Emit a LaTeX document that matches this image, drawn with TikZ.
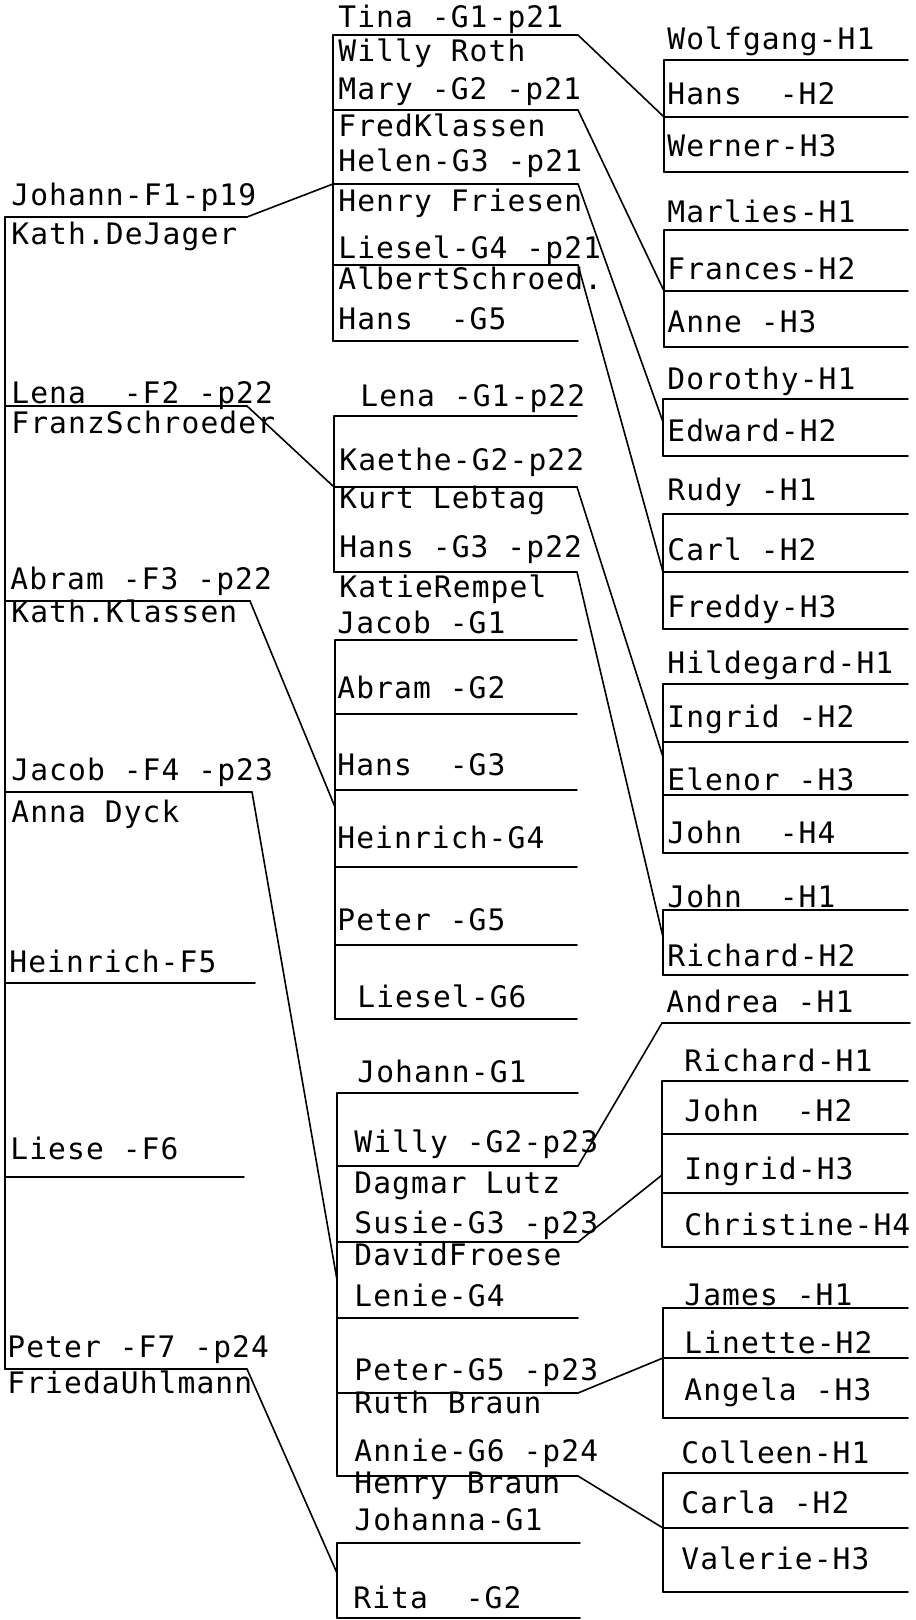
\documentclass[tikz,border=0pt]{standalone}
\usepackage{fontspec}
\setmonofont{DejaVu Sans Mono}[LetterSpace=3.7]
\usetikzlibrary{positioning}

\tikzset{
  person/.style={anchor=base west, inner sep=0pt, font=\ttfamily\fontsize{14.8}{16}\selectfont},
  rule/.style={line width=0.9pt},
  link/.style={line width=0.8pt},
}
% rows of one family: prefix, left x, right x, list of y
\newcommand{\famrows}[4]{%
  \foreach \y [count=\i] in {#4} {
    \coordinate (#1\i w) at (#2,\y);
    \coordinate (#1\i) at (#3,\y);
    \draw[rule] (#1\i w) -- (#1\i);
  }}

\begin{document}
\begin{tikzpicture}[x=0.5pt, y=-0.5pt, line cap=round]
\useasboundingbox (0,0) rectangle (915,1620);

% F generation
\foreach \n/\y/\r in {1/217/247, 2/406/247, 3/601/250, 4/792/252, 5/983/255, 6/1177/244, 7/1369/247} {
  \coordinate (f\n w) at (5,\y);
  \coordinate (f\n) at (\r,\y);
  \draw[rule] (f\n w) -- (f\n);
}
\draw[rule] (f1w) -- (f7w);
\node[person] (johann) at (11,206) {Johann-F1-p19};
\node[person] (kath) at (11,245) {Kath.DeJager};
\node[person] (lena) at (11,404) {Lena~~-F2 -p22};
\node[person] (franz) at (11,434) {FranzSchroeder};
\node[person] (abram) at (10,589) {Abram -F3 -p22};
\node[person] (kathk) at (11,622) {Kath.Klassen};
\node[person] (jacob) at (11,780) {Jacob -F4 -p23};
\node[person] (anna) at (11,822) {Anna Dyck};
\node[person] (heinrich) at (9,972) {Heinrich-F5};
\node[person] (liese) at (10,1159) {Liese -F6};
\node[person] (peter) at (7,1357) {Peter -F7 -p24};
\node[person] (frieda) at (7,1393) {FriedaUhlmann};

% G generation
\famrows{ga}{333}{578}{35,110,184,265,341}
\draw[rule] (ga1w) -- (ga5w);
\foreach \t/\y [count=\i] in {Tina -G1-p21/28, Willy Roth/62, Mary -G2 -p21/100, FredKlassen/137,
    Helen-G3 -p21/172, Henry Friesen/212, Liesel-G4 -p21/259, AlbertSchroed./290, Hans~~-G5/330}
  \node[person] (ga-t\i) at (338,\y) {\t};

\famrows{gb}{334}{577}{416,487,572}
\draw[rule] (gb1w) -- (gb3w);
\node[person] (gb-t1) at (360,407) {Lena -G1-p22};
\foreach \t/\y [count=\i from 2] in {Kaethe-G2-p22/470, Kurt Lebtag/508, Hans -G3 -p22/557, KatieRempel/597}
  \node[person] (gb-t\i) at (339,\y) {\t};

\famrows{gc}{335}{577}{640,714,790,867,945,1019}
\draw[rule] (gc1w) -- (gc6w);
\foreach \t/\y [count=\i] in {Jacob -G1/633, Abram -G2/698, Hans~~-G3/775, Heinrich-G4/848, Peter -G5/930}
  \node[person] (gc-t\i) at (337,\y) {\t};
\node[person] (gc-t6) at (357,1007) {Liesel-G6};

\famrows{gd}{337}{578}{1093,1166,1242,1318,1393,1476}
\draw[rule] (gd1w) -- (gd6w);
\node[person] (gd-t1) at (357,1082) {Johann-G1};
\foreach \t/\y [count=\i from 2] in {Willy -G2-p23/1152, Dagmar Lutz/1193, Susie-G3 -p23/1233,
    DavidFroese/1265, Lenie-G4/1306, Peter-G5 -p23/1380, Ruth Braun/1413, Annie-G6 -p24/1461, Henry Braun/1493}
  \node[person] (gd-t\i) at (354,\y) {\t};

\famrows{ge}{337}{580}{1543,1618}
\draw[rule] (ge1w) -- (ge2w);
\node[person] (ge-t1) at (354,1530) {Johanna-G1};
\node[person] (ge-t2) at (353,1608) {Rita~~-G2};

% H generation
\famrows{ha}{664}{908}{60,117,172}
\draw[rule] (ha1w) -- (ha3w);
\foreach \t/\y [count=\i] in {Wolfgang-H1/50, Hans~~-H2/105, Werner-H3/157}
  \node[person] (ha-t\i) at (667,\y) {\t};

\famrows{hb}{664}{908}{230,291,347}
\draw[rule] (hb1w) -- (hb3w);
\foreach \t/\y [count=\i] in {Marlies-H1/223, Frances-H2/280, Anne -H3/333}
  \node[person] (hb-t\i) at (667,\y) {\t};

\famrows{hc}{663}{908}{399,456}
\draw[rule] (hc1w) -- (hc2w);
\foreach \t/\y [count=\i] in {Dorothy-H1/390, Edward-H2/442}
  \node[person] (hc-t\i) at (667,\y) {\t};

\famrows{hd}{663}{908}{514,572,629}
\draw[rule] (hd1w) -- (hd3w);
\foreach \t/\y [count=\i] in {Rudy -H1/500, Carl -H2/560, Freddy-H3/617}
  \node[person] (hd-t\i) at (667,\y) {\t};

\famrows{he}{663}{908}{684,742,795,853}
\draw[rule] (he1w) -- (he4w);
\foreach \t/\y [count=\i] in {Hildegard-H1/673, Ingrid -H2/727, Elenor -H3/790, John~~-H4/843}
  \node[person] (he-t\i) at (667,\y) {\t};

\famrows{hf}{663}{908}{910,975}
\draw[rule] (hf1w) -- (hf2w);
\foreach \t/\y [count=\i] in {John~~-H1/907, Richard-H2/966}
  \node[person] (hf-t\i) at (667,\y) {\t};

\famrows{hg}{662}{910}{1023}
\node[person] (hg-t1) at (666,1012) {Andrea -H1};

\famrows{hh}{662}{908}{1081,1134,1193,1247}
\draw[rule] (hh1w) -- (hh4w);
\foreach \t/\y [count=\i] in {Richard-H1/1071, John~~-H2/1121, Ingrid-H3/1179, Christine-H4/1235}
  \node[person] (hh-t\i) at (684,\y) {\t};

\famrows{hi}{663}{908}{1308,1358,1418}
\draw[rule] (hi1w) -- (hi3w);
\foreach \t/\y [count=\i] in {James -H1/1305, Linette-H2/1353, Angela -H3/1400}
  \node[person] (hi-t\i) at (684,\y) {\t};

\famrows{hj}{663}{908}{1473,1528,1592}
\draw[rule] (hj1w) -- (hj3w);
\foreach \t/\y [count=\i] in {Colleen-H1/1463, Carla -H2/1513, Valerie-H3/1569}
  \node[person] (hj-t\i) at (681,\y) {\t};

% links between generations
\coordinate (gc-in) at (335,807);
\coordinate (gd-in) at (337,1280);
\coordinate (ge-in) at (337,1573);
\coordinate (hc-in) at (663,422);
\coordinate (he-in) at (663,757);
\coordinate (hf-in) at (663,937);
\coordinate (hh-in) at (662,1175);
\draw[link] (f1) -- (ga3w);
\draw[link] (f2) -- (gb2w);
\draw[link] (f3) -- (gc-in);
\draw[link] (f4) -- (gd-in);
\draw[link] (f7) -- (ge-in);
\draw[link] (ga1) -- (ha2w);
\draw[link] (ga2) -- (hb2w);
\draw[link] (ga3) -- (hc-in);
\draw[link] (ga4) -- (hd2w);
\draw[link] (gb2) -- (he-in);
\draw[link] (gb3) -- (hf-in);
\draw[link] (gd2) -- (hg1w);
\draw[link] (gd3) -- (hh-in);
\draw[link] (gd5) -- (hi2w);
\draw[link] (gd6) -- (hj2w);
\end{tikzpicture}
\end{document}
